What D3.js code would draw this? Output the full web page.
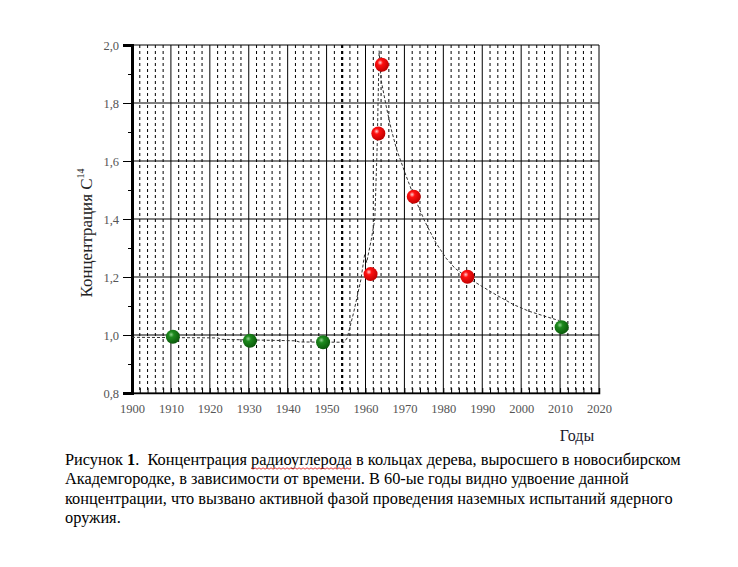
<!DOCTYPE html>
<html>
<head>
	<meta charset="utf-8">
	<title>Концентрация радиоуглерода</title>
	<script src="https://cdn.jsdelivr.net/npm/d3@7/dist/d3.min.js"></script>
	<style type="text/css">
		html, body {
			margin: 0;
			padding: 0;
			background: white;
		}
		svg {
			display: block;
			font-family: "Liberation Serif", "Times New Roman", "DejaVu Serif", serif;
		}
		svg text {
			font-family: "Liberation Serif", "Times New Roman", "DejaVu Serif", serif;
		}
	</style>
</head>
<body>

<div id="vis"></div>

<script type="text/javascript">

// measured points
var redYears = [1961.3, 1963.3, 1964.2, 1972.4, 1986.2];
var redValues = [1.21, 1.695, 1.932, 1.477, 1.201];
var greenYears = [1910.5, 1930.3, 1949.1, 2010.4];
var greenValues = [0.994, 0.980, 0.975, 1.027];

// dotted fit curve
var fitYears = [1900, 1922, 1923, 1942, 1943, 1954.5, 1955.3, 1957, 1958.8, 1959.8, 1960.3,
	1961.5, 1962.4, 1963, 1963.5, 1964, 1965.3, 1966.6, 1968, 1970.4, 1972.4, 1975.3,
	1978, 1980.7, 1983, 1986, 1990, 1994, 1998, 2002, 2006, 2009.7];
var fitValues = [0.992, 0.99, 0.985, 0.98, 0.976, 0.975, 0.99, 1.08, 1.19, 1.28, 1.25,
	1.33, 1.40, 1.65, 1.98, 1.88, 1.79, 1.71, 1.64, 1.55, 1.48, 1.39,
	1.32, 1.265, 1.23, 1.20, 1.167, 1.135, 1.105, 1.082, 1.065, 1.05];

var xTicks = d3.range(1900, 2021, 10);
var xMinor = d3.range(1900, 2021, 2);
var yTicks = [0.8, 1.0, 1.2, 1.4, 1.6, 1.8, 2.0];
var yMinor = [0.9, 1.1, 1.3, 1.5, 1.7, 1.9];
var heavyYear = 1954;

var captionLines = [
	["Рисунок ", "1", ".\u00a0 Концентрация ", "радиоуглерода", " в кольцах дерева, выросшего в новосибирском"],
	["Академгородке, в зависимости от времени. В 60-ые годы видно удвоение данной"],
	["концентрации, что вызвано активной фазой проведения наземных испытаний ядерного"],
	["оружия."]
];
// width of the third line, used to size the caption font
var captionRefLine = 2;
var captionRefWidth = 608;

var width = 738;
var height = 567;

var svg = d3.select("#vis").append("svg")
	.attr("width", width)
	.attr("height", height);

var x = d3.scaleLinear().domain([1900, 2020]).range([132, 599]);
var y = d3.scaleLinear().domain([0.8, 2.0]).range([393, 45]);

var defs = svg.append("defs");

function ballGradient(id, light, mid, dark) {
	var g = defs.append("radialGradient")
		.attr("id", id)
		.attr("cx", "38%").attr("cy", "35%").attr("r", "65%");
	g.append("stop").attr("offset", "0%").attr("stop-color", light);
	g.append("stop").attr("offset", "30%").attr("stop-color", mid);
	g.append("stop").attr("offset", "100%").attr("stop-color", dark);
}
ballGradient("redBall", "#ffd0d0", "#ff1010", "#c00000");
ballGradient("greenBall", "#8fd08f", "#1d8a1d", "#0b5a0b");

// minor dashed verticals
svg.append("g")
	.selectAll("line")
	.data(xMinor.filter(function(d) { return d % 10 !== 0; }))
	.join("line")
	.attr("x1", function(d) { return x(d); })
	.attr("x2", function(d) { return x(d); })
	.attr("y1", y(2.0))
	.attr("y2", y(0.8))
	.attr("stroke", "black")
	.attr("stroke-width", function(d) { return d === heavyYear ? 2.2 : 1; })
	.attr("stroke-dasharray", "3,3");

// major solid verticals
svg.append("g")
	.selectAll("line")
	.data(xTicks)
	.join("line")
	.attr("x1", function(d) { return x(d); })
	.attr("x2", function(d) { return x(d); })
	.attr("y1", y(2.0))
	.attr("y2", y(0.8))
	.attr("stroke", "black")
	.attr("stroke-width", 1);

// horizontal grid
svg.append("g")
	.selectAll("line")
	.data(yTicks)
	.join("line")
	.attr("x1", x(1900))
	.attr("x2", x(2020))
	.attr("y1", function(d) { return y(d); })
	.attr("y2", function(d) { return y(d); })
	.attr("stroke", "black")
	.attr("stroke-width", 1.2);

// x axis
var xAxis = svg.append("g")
	.attr("transform", "translate(0," + y(0.8) + ")")
	.call(d3.axisBottom(x).tickValues(xMinor).tickSize(-5).tickPadding(11)
		.tickFormat(function(d) { return d % 10 === 0 ? d : ""; }));
xAxis.attr("font-family", null);
xAxis.select(".domain").attr("stroke-width", 1.5);
xAxis.selectAll(".tick line").attr("stroke-width", 1);
xAxis.selectAll(".tick text")
	.attr("font-size", 12.5)
	.attr("fill", "#555");

// y axis
var yAxis = svg.append("g")
	.attr("transform", "translate(" + x(1900) + ",0)")
	.call(d3.axisLeft(y).tickValues(yTicks).tickSize(9).tickPadding(4)
		.tickFormat(function(d) { return d3.format(".1f")(d).replace(".", ","); }));
yAxis.attr("font-family", null);
yAxis.select(".domain").attr("stroke-width", 3);
yAxis.selectAll(".tick text")
	.attr("font-size", 12.5)
	.attr("fill", "#555");
svg.append("g")
	.attr("transform", "translate(" + x(1900) + ",0)")
	.call(d3.axisLeft(y).tickValues(yMinor).tickSize(4).tickFormat(""))
	.select(".domain").remove();

// fit curve
var fitData = fitYears.map(function(d, i) { return [d, fitValues[i]]; });
svg.append("path")
	.datum(fitData)
	.attr("d", d3.line()
		.x(function(d) { return x(d[0]); })
		.y(function(d) { return y(d[1]); }))
	.attr("fill", "none")
	.attr("stroke", "#333")
	.attr("stroke-width", 1)
	.attr("stroke-dasharray", "3,2");

// balls
function drawBalls(years, values, grad) {
	svg.append("g")
		.selectAll("circle")
		.data(years.map(function(d, i) { return [d, values[i]]; }))
		.join("circle")
		.attr("cx", function(d) { return x(d[0]); })
		.attr("cy", function(d) { return y(d[1]); })
		.attr("r", 7)
		.attr("fill", "url(#" + grad + ")");
}
drawBalls(greenYears, greenValues, "greenBall");
drawBalls(redYears, redValues, "redBall");

// axis titles
svg.append("text")
	.attr("transform", "translate(92,233) rotate(-90)")
	.attr("text-anchor", "middle")
	.attr("font-size", 17)
	.attr("fill", "#222")
	.html("Концентрация C<tspan dy='-8' font-size='10'>14</tspan>");

svg.append("text")
	.attr("x", 577)
	.attr("y", 441)
	.attr("text-anchor", "middle")
	.attr("font-size", 16)
	.attr("fill", "#1a1a2e")
	.text("Годы");

// caption
var caption = svg.append("g")
	.attr("fill", "black");

var probe = caption.append("text")
	.attr("font-size", 15)
	.text(captionLines[captionRefLine].join(""));
var captionSize = 15 * captionRefWidth / probe.node().getComputedTextLength();
probe.remove();

captionLines.forEach(function(parts, i) {
	var yb = 465 + i * 19.3;
	var t = caption.append("text")
		.attr("x", 65)
		.attr("y", yb)
		.attr("font-size", captionSize);
	parts.forEach(function(p, j) {
		t.append("tspan")
			.attr("font-weight", (i === 0 && j === 1) ? "bold" : null)
			.text(p);
	});
	if (i === 0) {
		// red wavy spell-check underline
		var node = t.node();
		var before = parts[0].length + parts[1].length + parts[2].length;
		var start = node.getSubStringLength(0, before);
		var wlen = node.getSubStringLength(before, parts[3].length);
		var x0 = 65 + start;
		var pts = d3.range(0, Math.floor(wlen / 2) + 1).map(function(k) {
			return [x0 + k * 2, yb + 3 + (k % 2 ? 1.2 : -0.2)];
		});
		caption.append("path")
			.attr("d", d3.line()(pts))
			.attr("fill", "none")
			.attr("stroke", "#e02020")
			.attr("stroke-width", 0.9);
	}
});

</script>

</body>
</html>
